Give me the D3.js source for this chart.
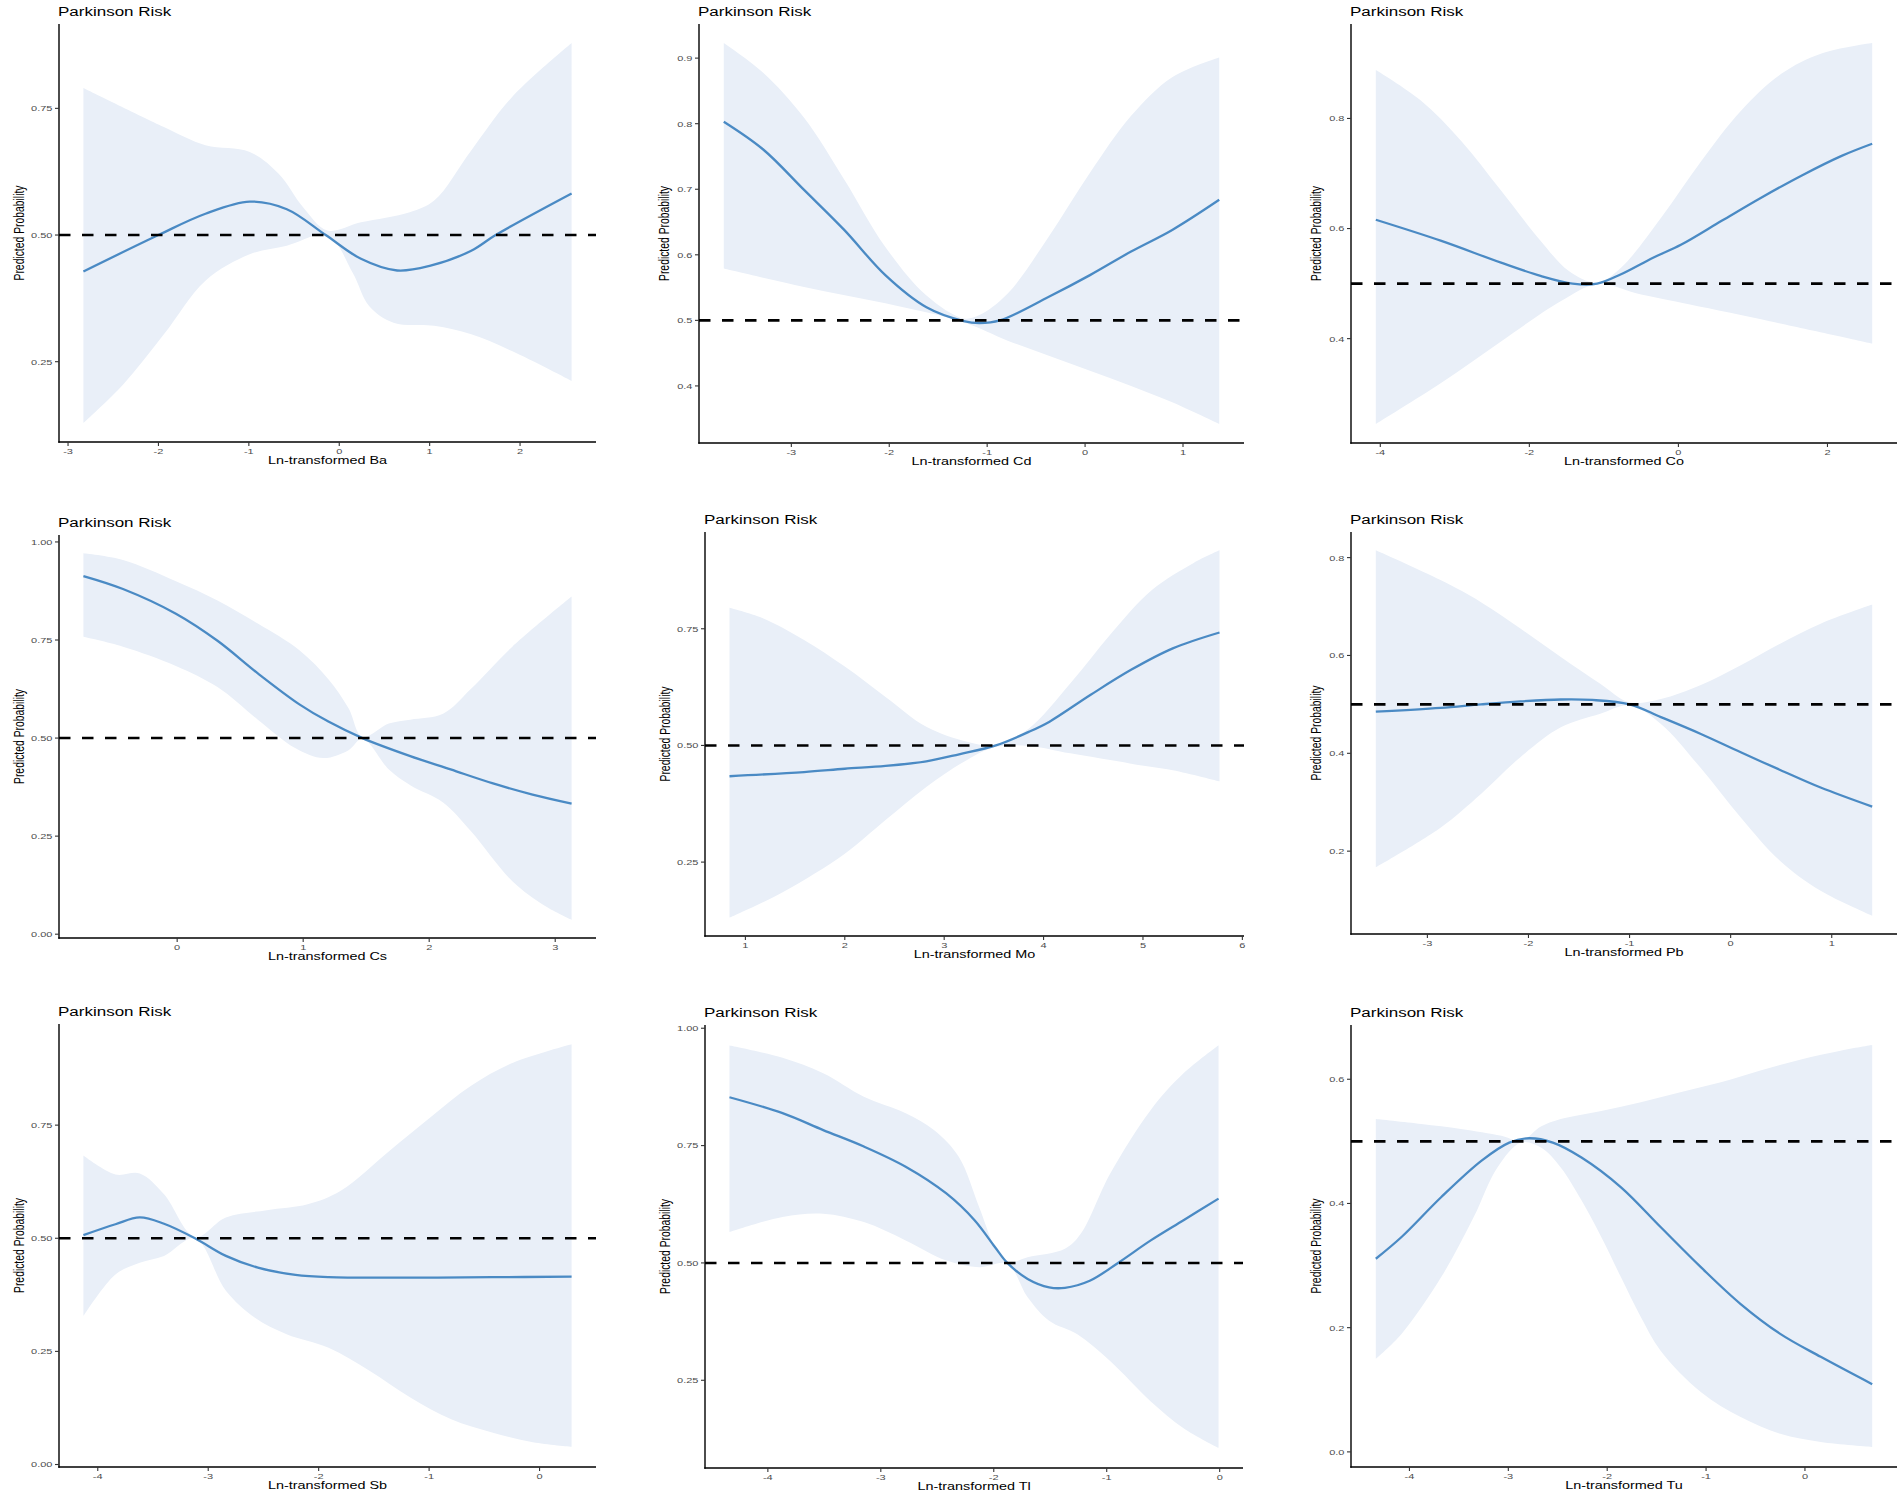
<!DOCTYPE html>
<html>
<head>
<meta charset="utf-8">
<script src="https://cdn.jsdelivr.net/npm/d3@7"></script>
<style>
  body { margin: 0; background: #fff; }
  svg { display: block; }
  text { font-family: "Liberation Sans", Arial, sans-serif; }
</style>
</head>
<body>
<div id="chart"></div>
<script>
// element order, left to right, top to bottom
const elements = ["Ba", "Cd", "Co", "Cs", "Mo", "Pb", "Sb", "Tl", "Tu"];

// fitted probability and confidence band, [ln value, probability]
const baFit = [[-2.83,0.428],[-2.0,0.5],[-1.48,0.542],[-0.99,0.566],[-0.58,0.551],[-0.15,0.5],[0.24,0.453],[0.64,0.43],[1.0,0.439],[1.46,0.469],[1.73,0.5],[2.57,0.582]];
const baUpper = [[-2.83,0.790],[-1.94,0.713],[-1.48,0.677],[-0.99,0.664],[-0.67,0.621],[-0.40,0.555],[-0.13,0.509],[0.24,0.525],[0.78,0.545],[1.05,0.568],[1.46,0.667],[1.91,0.772],[2.57,0.879]];
const baLower = [[-2.83,0.129],[-2.39,0.205],[-1.94,0.304],[-1.48,0.410],[-0.99,0.462],[-0.58,0.479],[-0.13,0.499],[0.15,0.425],[0.33,0.36],[0.60,0.327],[1.05,0.321],[1.46,0.304],[1.91,0.271],[2.57,0.212]];

const cdFit = [[-3.69,0.803],[-3.29,0.761],[-2.87,0.699],[-2.46,0.638],[-2.04,0.569],[-1.62,0.520],[-1.24,0.499],[-1.08,0.496],[-0.87,0.5],[-0.37,0.536],[0.05,0.569],[0.47,0.605],[0.89,0.638],[1.37,0.684]];
const cdUpper = [[-3.69,0.923],[-3.29,0.878],[-2.87,0.809],[-2.46,0.715],[-2.04,0.612],[-1.62,0.538],[-1.24,0.503],[-1.08,0.508],[-0.79,0.541],[-0.37,0.628],[0.05,0.725],[0.47,0.812],[0.89,0.871],[1.37,0.901]];
const cdLower = [[-3.69,0.579],[-2.87,0.551],[-2.04,0.526],[-1.24,0.497],[-0.79,0.469],[-0.37,0.446],[0.05,0.423],[0.47,0.400],[0.89,0.375],[1.37,0.342]];

const coFit = [[-4.06,0.616],[-3.19,0.578],[-2.38,0.538],[-1.85,0.514],[-1.42,0.500],[-1.09,0.500],[-0.77,0.517],[-0.34,0.547],[0.04,0.571],[0.58,0.614],[1.11,0.656],[1.65,0.696],[2.19,0.732],[2.60,0.754]];
const coUpper = [[-4.06,0.888],[-3.46,0.833],[-2.92,0.760],[-2.38,0.669],[-1.85,0.578],[-1.47,0.523],[-1.09,0.502],[-0.77,0.529],[-0.23,0.620],[0.31,0.723],[0.84,0.814],[1.38,0.881],[1.92,0.918],[2.60,0.937]];
const coLower = [[-4.06,0.245],[-3.19,0.319],[-2.38,0.395],[-1.58,0.468],[-1.09,0.499],[-0.50,0.480],[0.04,0.465],[1.11,0.435],[2.60,0.391]];

const csFit = [[-0.744,0.913],[-0.43,0.880],[-0.01,0.817],[0.32,0.748],[0.64,0.665],[0.97,0.586],[1.20,0.542],[1.47,0.50],[1.85,0.454],[2.17,0.420],[2.50,0.385],[2.82,0.356],[3.13,0.333]];
const csUpper = [[-0.744,0.971],[-0.43,0.954],[-0.01,0.900],[0.32,0.851],[0.64,0.792],[0.97,0.724],[1.20,0.650],[1.36,0.576],[1.47,0.503],[1.68,0.537],[1.85,0.547],[2.11,0.562],[2.33,0.625],[2.66,0.733],[3.13,0.861]];
const csLower = [[-0.744,0.758],[-0.43,0.733],[-0.01,0.684],[0.32,0.630],[0.64,0.547],[0.94,0.474],[1.16,0.449],[1.36,0.469],[1.47,0.498],[1.68,0.420],[1.85,0.380],[2.11,0.336],[2.33,0.263],[2.66,0.135],[2.92,0.072],[3.13,0.037]];

const moFit = [[0.84,0.434],[1.59,0.443],[2.0,0.450],[2.41,0.456],[2.82,0.466],[3.15,0.481],[3.52,0.50],[3.85,0.529],[4.06,0.551],[4.47,0.608],[4.88,0.662],[5.30,0.708],[5.77,0.742]];
const moUpper = [[0.84,0.795],[1.17,0.773],[1.59,0.726],[2.0,0.669],[2.41,0.604],[2.82,0.540],[3.23,0.508],[3.52,0.5],[3.85,0.536],[4.27,0.633],[4.68,0.740],[5.09,0.833],[5.51,0.891],[5.77,0.918]];
const moLower = [[0.84,0.131],[1.38,0.186],[2.0,0.268],[2.41,0.340],[2.82,0.411],[3.23,0.469],[3.52,0.497],[3.85,0.499],[4.27,0.483],[4.88,0.461],[5.30,0.447],[5.77,0.423]];

const pbFit = [[-3.51,0.485],[-2.87,0.493],[-2.47,0.50],[-2.08,0.506],[-1.68,0.510],[-1.37,0.509],[-1.0,0.5],[-0.69,0.474],[-0.30,0.440],[0.10,0.402],[0.49,0.366],[0.89,0.330],[1.40,0.291]];
const pbUpper = [[-3.51,0.815],[-2.87,0.754],[-2.47,0.709],[-2.08,0.655],[-1.68,0.597],[-1.29,0.542],[-1.0,0.504],[-0.69,0.511],[-0.30,0.539],[0.10,0.580],[0.49,0.624],[0.89,0.665],[1.40,0.704]];
const pbLower = [[-3.51,0.167],[-2.87,0.248],[-2.47,0.317],[-2.08,0.392],[-1.68,0.453],[-1.29,0.481],[-1.0,0.498],[-0.69,0.460],[-0.30,0.371],[0.10,0.269],[0.49,0.180],[0.89,0.119],[1.40,0.068]];

const sbFit = [[-4.13,0.507],[-3.84,0.531],[-3.62,0.546],[-3.40,0.532],[-3.12,0.50],[-2.84,0.461],[-2.55,0.435],[-2.21,0.419],[-1.91,0.414],[-1.17,0.413],[-0.43,0.414],[0.29,0.415]];
const sbUpper = [[-4.13,0.683],[-3.84,0.641],[-3.62,0.643],[-3.40,0.597],[-3.12,0.503],[-2.84,0.546],[-2.47,0.562],[-2.10,0.575],[-1.80,0.605],[-1.36,0.693],[-0.99,0.767],[-0.62,0.837],[-0.24,0.888],[0.29,0.929]];
const sbLower = [[-4.13,0.328],[-3.84,0.420],[-3.62,0.446],[-3.40,0.461],[-3.12,0.5],[-2.84,0.384],[-2.58,0.325],[-2.29,0.288],[-1.91,0.258],[-1.54,0.207],[-1.17,0.148],[-0.80,0.100],[-0.43,0.071],[-0.06,0.049],[0.29,0.039]];

const tlFit = [[-4.34,0.853],[-3.87,0.819],[-3.51,0.783],[-3.15,0.748],[-2.78,0.705],[-2.42,0.648],[-2.17,0.591],[-1.99,0.534],[-1.88,0.5],[-1.70,0.466],[-1.51,0.448],[-1.37,0.447],[-1.15,0.462],[-0.90,0.5],[-0.61,0.548],[-0.32,0.591],[-0.01,0.637]];
const tlUpper = [[-4.34,0.963],[-3.87,0.937],[-3.51,0.904],[-3.15,0.854],[-2.78,0.819],[-2.53,0.783],[-2.31,0.726],[-2.13,0.619],[-1.99,0.534],[-1.88,0.501],[-1.70,0.512],[-1.37,0.530],[-1.23,0.562],[-0.97,0.690],[-0.61,0.826],[-0.32,0.904],[-0.01,0.964]];
const tlLower = [[-4.34,0.566],[-3.87,0.598],[-3.51,0.605],[-3.15,0.587],[-2.78,0.548],[-2.42,0.505],[-2.13,0.491],[-1.88,0.498],[-1.70,0.427],[-1.51,0.377],[-1.26,0.348],[-0.97,0.291],[-0.61,0.205],[-0.32,0.148],[-0.01,0.106]];

const tuFit = [[-4.34,0.311],[-4.08,0.346],[-3.68,0.410],[-3.27,0.469],[-2.99,0.498],[-2.79,0.505],[-2.55,0.498],[-2.26,0.474],[-1.86,0.426],[-1.46,0.362],[-1.05,0.297],[-0.65,0.238],[-0.25,0.190],[0.16,0.153],[0.68,0.109]];
const tuUpper = [[-4.34,0.536],[-3.88,0.528],[-3.48,0.520],[-3.07,0.509],[-2.87,0.501],[-2.67,0.524],[-2.47,0.536],[-2.06,0.549],[-1.66,0.563],[-1.26,0.579],[-0.85,0.595],[-0.45,0.614],[-0.04,0.632],[0.36,0.646],[0.68,0.655]];
const tuLower = [[-4.34,0.150],[-4.08,0.190],[-3.68,0.281],[-3.35,0.378],[-3.11,0.458],[-2.87,0.498],[-2.67,0.490],[-2.47,0.458],[-2.26,0.405],[-2.06,0.346],[-1.86,0.281],[-1.66,0.217],[-1.46,0.163],[-1.05,0.096],[-0.65,0.056],[-0.25,0.029],[0.16,0.016],[0.68,0.008]];

// tick labels
const xTicks = [[-3,-2,-1,0,1,2],[-3,-2,-1,0,1],[-4,-2,0,2],[0,1,2,3],[1,2,3,4,5,6],[-3,-2,-1,0,1],[-4,-3,-2,-1,0],[-4,-3,-2,-1,0],[-4,-3,-2,-1,0]];
const yTicks = [[0.25,0.5,0.75],[0.4,0.5,0.6,0.7,0.8,0.9],[0.4,0.6,0.8],[0,0.25,0.5,0.75,1],[0.25,0.5,0.75],[0.2,0.4,0.6,0.8],[0,0.25,0.5,0.75],[0.25,0.5,0.75,1],[0,0.2,0.4,0.6]];
const yDigits = [2,1,1,2,2,1,2,2,1];
const refLine = 0.5;

const fits = [baFit, cdFit, coFit, csFit, moFit, pbFit, sbFit, tlFit, tuFit];
const uppers = [baUpper, cdUpper, coUpper, csUpper, moUpper, pbUpper, sbUpper, tlUpper, tuUpper];
const lowers = [baLower, cdLower, coLower, csLower, moLower, pbLower, sbLower, tlLower, tuLower];

// panel boxes: left, right, top, bottom (axis lines)
const boxes = [
  [59, 596, 24, 442], [699, 1244, 24, 443], [1351, 1897, 24, 443],
  [59, 596, 535, 938], [705, 1244, 532, 936], [1351, 1897, 532, 934],
  [59, 596, 1024, 1467], [705, 1243, 1025, 1468], [1351, 1897, 1025, 1467]
];

const W = 1902, H = 1502;
const V = 0.72; // the figure is squashed vertically
const lineColor = "#4a8ac4";
const bandColor = "#e9eff8";

var svg = d3.select("#chart").append("svg")
  .attr("width", W)
  .attr("height", H);

function padded(ext) {
  var d = (ext[1] - ext[0]) * 0.05;
  return [ext[0] - d, ext[1] + d];
}

elements.forEach(function(el, i) {
  var b = boxes[i];
  var fit = fits[i], up = uppers[i], lo = lowers[i];
  var all = fit.concat(up, lo);

  var x = d3.scaleLinear()
    .domain(padded(d3.extent(all, d => d[0])))
    .range([b[0], b[1]]);
  var yExt = d3.extent(all.map(d => d[1]).concat([refLine]));
  var y = d3.scaleLinear()
    .domain(padded(yExt))
    .range([b[3], b[2]]);

  var g = svg.append("g");
  var line = d3.line()
    .x(d => x(d[0]))
    .y(d => y(d[1]))
    .curve(d3.curveCatmullRom.alpha(0.5));

  // ribbon: upper edge then lower edge backwards
  var loRev = lo.slice().reverse();
  g.append("path")
    .attr("d", line(up) + line(loRev).replace(/^M/, "L") + "Z")
    .attr("fill", bandColor)
    .attr("stroke", "none");

  g.append("path")
    .datum(fit)
    .attr("d", line)
    .attr("fill", "none")
    .attr("stroke", lineColor)
    .attr("stroke-width", 2.3);

  g.append("line")
    .attr("x1", b[0]).attr("x2", b[1])
    .attr("y1", y(refLine)).attr("y2", y(refLine))
    .attr("stroke", "#000")
    .attr("stroke-width", 2.6)
    .attr("stroke-dasharray", "11.5,11.5");

  // axes
  g.append("line")
    .attr("x1", b[0]).attr("x2", b[0])
    .attr("y1", b[2]).attr("y2", b[3] + 0.7)
    .attr("stroke", "#000").attr("stroke-width", 1.4);
  g.append("line")
    .attr("x1", b[0] - 0.7).attr("x2", b[1])
    .attr("y1", b[3]).attr("y2", b[3])
    .attr("stroke", "#000").attr("stroke-width", 1.4);

  var fmt = d3.format("." + yDigits[i] + "f");
  var maxW = 0;
  yTicks[i].forEach(function(t) {
    var ty = y(t);
    g.append("line")
      .attr("x1", b[0] - 4).attr("x2", b[0])
      .attr("y1", ty).attr("y2", ty)
      .attr("stroke", "#333").attr("stroke-width", 1.1);
    var tx = g.append("text")
      .attr("transform", "translate(" + (b[0] - 6.5) + "," + ty + ") scale(1," + V + ")")
      .attr("text-anchor", "end")
      .attr("dominant-baseline", "central")
      .attr("font-size", 11)
      .attr("fill", "#4d4d4d")
      .text(fmt(t));
    maxW = Math.max(maxW, tx.node().getBBox().width);
  });

  xTicks[i].forEach(function(t) {
    var tx = x(t);
    g.append("line")
      .attr("x1", tx).attr("x2", tx)
      .attr("y1", b[3]).attr("y2", b[3] + 4)
      .attr("stroke", "#333").attr("stroke-width", 1.1);
    g.append("text")
      .attr("transform", "translate(" + tx + "," + (b[3] + 12) + ") scale(1," + V + ")")
      .attr("text-anchor", "middle")
      .attr("font-size", 11)
      .attr("fill", "#4d4d4d")
      .text(t < 0 ? "-" + Math.abs(t) : t);
  });

  // titles
  g.append("text")
    .attr("transform", "translate(" + (b[0] - 1) + "," + (b[2] - 8) + ") scale(1," + V + ")")
    .attr("font-size", 17)
    .attr("fill", "#000")
    .text("Parkinson Risk");

  g.append("text")
    .attr("transform", "translate(" + ((b[0] + b[1]) / 2) + "," + (b[3] + 22) + ") scale(1," + V + ")")
    .attr("text-anchor", "middle")
    .attr("font-size", 14.4)
    .attr("fill", "#000")
    .text("Ln-transformed " + el);

  var lx = b[0] - 6.5 - maxW - 12;
  g.append("text")
    .attr("transform", "translate(" + lx + "," + ((b[2] + b[3]) / 2) + ") rotate(-90) scale(" + V + ",1)")
    .attr("text-anchor", "middle")
    .attr("dominant-baseline", "central")
    .attr("font-size", 14.4)
    .attr("fill", "#000")
    .text("Predicted Probability");
});
</script>
</body>
</html>
